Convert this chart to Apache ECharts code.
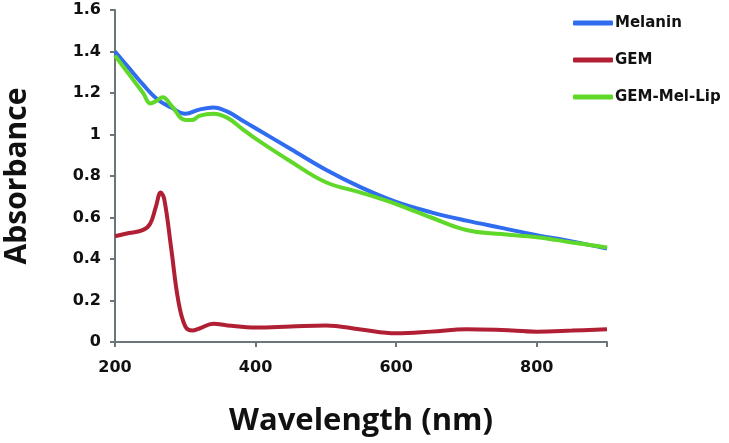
<!DOCTYPE html>
<html><head><meta charset="utf-8">
<script src="https://cdn.jsdelivr.net/npm/echarts@6/dist/echarts.min.js"></script>
<style>html,body{margin:0;padding:0;background:#fff}#c{width:729px;height:443px}</style>
</head><body><div id="c"></div>
<script>
const xTicks = [200, 400, 600, 800];
const melaninX = [200,220,240,260,280,300,320,340,360,380,400,450,500,550,600,650,700,750,800,850,900];
const melaninY = [1.40,1.32,1.24,1.17,1.13,1.10,1.12,1.13,1.11,1.07,1.03,0.93,0.83,0.745,0.675,0.625,0.585,0.55,0.515,0.485,0.45];
const gemX = [200,220,240,250,258,265,270,280,290,300,310,320,340,360,400,450,500,550,600,650,700,750,800,850,900];
const gemY = [0.51,0.525,0.54,0.57,0.65,0.72,0.69,0.45,0.20,0.075,0.055,0.065,0.088,0.08,0.07,0.075,0.08,0.06,0.042,0.05,0.062,0.058,0.05,0.055,0.062];
const lipX = [200,220,240,250,258,268,280,300,310,320,340,360,380,400,450,500,550,600,650,700,750,800,850,900];
const lipY = [1.38,1.29,1.20,1.15,1.16,1.18,1.14,1.07,1.07,1.09,1.10,1.08,1.03,0.98,0.87,0.77,0.72,0.665,0.60,0.54,0.52,0.505,0.48,0.455];

const zip = (a, b) => a.map((v, i) => [v, b[i]]);
const tickFont = '"DejaVu Sans", sans-serif';
const titleFont = '"Open Sans", sans-serif';
const axisCol = '#6b7678';
const chart = echarts.init(document.getElementById('c'), null, {renderer: 'canvas'});
chart.setOption({
  animation: false,
  grid: {left: 115, right: 122, top: 10, bottom: 101, containLabel: false, outerBoundsMode: 'none'},
  legend: {
    orient: 'vertical', left: 568, top: 8,
    itemWidth: 40, itemHeight: 5, itemGap: 17,
    icon: 'roundRect',
    textStyle: {fontFamily: tickFont, fontWeight: 'bold', fontSize: 15, color: '#111', lineHeight: 20, padding: [0,0,0,-3]},
    data: ['Melanin', 'GEM', 'GEM-Mel-Lip']
  },
  xAxis: {
    type: 'value', min: 200, max: 900, interval: 200,
    name: 'Wavelength (nm)', nameLocation: 'middle', nameGap: 64,
    nameTextStyle: {fontFamily: titleFont, fontWeight: 'bold', fontSize: 31, color: '#111'},
    axisLine: {lineStyle: {color: axisCol, width: 2}},
    axisTick: {show: true, length: 5, lineStyle: {color: axisCol, width: 2}},
    axisLabel: {fontFamily: tickFont, fontWeight: 'bold', fontSize: 16, color: '#111', margin: 18,
      formatter: v => xTicks.includes(v) ? String(v) : ''},
    splitLine: {show: false}
  },
  yAxis: {
    type: 'value', min: 0, max: 1.6, interval: 0.2,
    name: 'Absorbance', nameLocation: 'middle', nameGap: 83, nameRotate: 90,
    nameTextStyle: {fontFamily: titleFont, fontWeight: 'bold', fontSize: 30, color: '#111'},
    axisLine: {show: true, lineStyle: {color: axisCol, width: 2}},
    axisTick: {show: true, length: 5, lineStyle: {color: axisCol, width: 2}},
    axisLabel: {fontFamily: tickFont, fontWeight: 'bold', fontSize: 16, color: '#111', margin: 14,
      formatter: v => String(Math.round(v * 10) / 10)},
    splitLine: {show: false}
  },
  series: [
    {name: 'Melanin', type: 'line', data: zip(melaninX, melaninY), smooth: 0.4, showSymbol: false,
     lineStyle: {color: '#2f6cf0', width: 4}, itemStyle: {color: '#2f6cf0'}, z: 2},
    {name: 'GEM', type: 'line', data: zip(gemX, gemY), smooth: 0.4, showSymbol: false,
     lineStyle: {color: '#b01f34', width: 4}, itemStyle: {color: '#b01f34'}, z: 3},
    {name: 'GEM-Mel-Lip', type: 'line', data: zip(lipX, lipY), smooth: 0.4, showSymbol: false,
     lineStyle: {color: '#5fd82a', width: 4}, itemStyle: {color: '#5fd82a'}, z: 4}
  ]
});
</script></body></html>
